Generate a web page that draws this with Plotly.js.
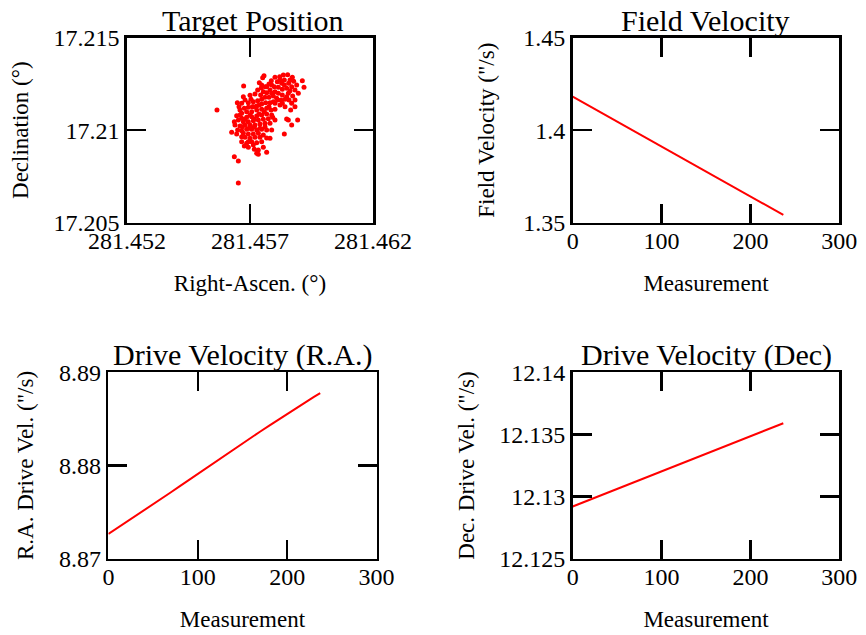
<!DOCTYPE html>
<html>
<head>
<meta charset="utf-8">
<script src="https://cdn.plot.ly/plotly-3.0.1.min.js"></script>
<style>
html, body { margin: 0; padding: 0; background: #fff; }
#chart { width: 866px; height: 635px; }
</style>
</head>
<body>
<div id="chart"></div>
<script>
// ---- Target Position (scatter) ----
const targetRA = [
281.457569,281.457515,281.457379,281.458016,281.458206,281.458395,281.458531,281.458721,281.458775,281.458572,
281.458287,281.458111,281.457867,281.457772,281.457623,281.457460,281.457311,281.456742,281.459127,281.459195,
281.458694,281.458829,281.458490,281.458314,281.458152,281.457989,281.457813,281.458016,281.457881,281.457677,
281.457542,281.457203,281.457000,281.457433,281.458152,281.458314,281.458558,281.458734,281.458829,281.458694,
281.458585,281.458423,281.458260,281.458084,281.457948,281.457772,281.457610,281.457474,281.457311,281.457135,
281.456932,281.456797,281.456661,281.456485,281.458829,281.458653,281.458423,281.458219,281.458016,281.457813,
281.457637,281.457474,281.457271,281.457095,281.456932,281.456769,281.456593,281.456458,281.456661,281.456864,
281.457068,281.457271,281.457474,281.457677,281.457853,281.458016,281.457881,281.457677,281.457474,281.457271,
281.457068,281.456864,281.456661,281.456526,281.456729,281.456932,281.457135,281.457339,281.457542,281.457745,
281.457921,281.456390,281.456593,281.456797,281.457000,281.457203,281.457406,281.457610,281.457813,281.458490,
281.458558,281.458937,281.458694,281.456498,281.456661,281.456864,281.457068,281.457271,281.457474,281.457677,
281.456255,281.456458,281.456729,281.456932,281.457135,281.457339,281.457542,281.458395,281.456797,281.457000,
281.457203,281.457406,281.457677,281.457813,281.456661,281.456864,281.457068,281.457271,281.457474,281.456769,
281.456932,281.457135,281.457339,281.457176,281.457271,281.457339,281.457677,281.457542,281.456363,281.456526,
281.456526,281.455658,281.456593,281.456797,281.457000,281.457176,281.457366,281.457582,281.457772,281.457366,
281.457040,281.456729,281.456553,281.456363,281.456959,281.457176,281.457406,281.456688,281.457948,281.458124,
281.458314,281.458490,281.458626,281.458395,281.458219,281.457881,281.457677,281.458897,281.458965,281.457474,
281.457135,281.457610,281.457881,281.458016,281.456932,281.456661,281.458355,281.458626
];
const targetDec = [
17.212948,17.212840,17.212570,17.212858,17.212894,17.212714,17.213002,17.212858,17.212642,17.212534,
17.212534,17.212624,17.212678,17.212498,17.212353,17.212281,17.212173,17.212389,17.212678,17.212317,
17.212353,17.212173,17.212263,17.212209,17.212317,17.212353,17.212173,17.212083,17.211993,17.212029,
17.212083,17.211957,17.211885,17.211903,17.211993,17.211903,17.211993,17.211849,17.211633,17.211452,
17.211633,17.211669,17.211633,17.211723,17.211849,17.211777,17.211777,17.211669,17.211597,17.211542,
17.211488,17.211633,17.211452,17.211488,17.211272,17.211092,17.211272,17.211362,17.211452,17.211488,
17.211488,17.211416,17.211308,17.211272,17.211236,17.211182,17.211092,17.210786,17.210912,17.211002,
17.211002,17.211092,17.211128,17.211182,17.211092,17.211128,17.210822,17.210876,17.210822,17.210768,
17.210732,17.210696,17.210641,17.210551,17.210461,17.210461,17.210515,17.210551,17.210587,17.210623,
17.210696,17.210281,17.210227,17.210281,17.210281,17.210281,17.210335,17.210371,17.210371,17.210605,
17.210551,17.210551,17.210281,17.210011,17.209975,17.210047,17.210047,17.210011,17.210047,17.210011,
17.209885,17.209795,17.209831,17.209795,17.209795,17.209831,17.209740,17.209795,17.209614,17.209560,
17.209614,17.209614,17.209578,17.209560,17.209380,17.209290,17.209380,17.209326,17.209380,17.209146,
17.209074,17.209200,17.208930,17.208966,17.208749,17.208695,17.208803,17.209074,17.208569,17.208335,
17.207146,17.211092,17.210822,17.210587,17.210822,17.210587,17.210876,17.211002,17.211272,17.211362,
17.211669,17.211813,17.211272,17.210461,17.210101,17.210191,17.210101,17.210191,17.211542,17.211633,
17.211452,17.211813,17.212137,17.212444,17.212714,17.212444,17.212353,17.212444,17.211993,17.212444,
17.211272,17.210191,17.210011,17.210551,17.209380,17.209650,17.212984,17.212714
];
const raTickVals = [281.452, 281.457, 281.462];
const raTickText = ["281.452", "281.457", "281.462"];
const decTickVals = [17.205, 17.21, 17.215];
const decTickText = ["17.205", "17.21", "17.215"];

// ---- Field Velocity ----
const fieldMeas = [0, 50, 100, 150, 200, 237];
const fieldVel = [1.4181, 1.40462, 1.39114, 1.37766, 1.36418, 1.3542];
const fieldTickVals = [1.35, 1.4, 1.45];
const fieldTickText = ["1.35", "1.4", "1.45"];

// ---- Drive Velocity (R.A.) ----
const raMeas = [0,10,20,25,30,40,50,60,70,80,90,100,110,120,130,140,150,160,170,180,190,200,210,220,230,237];
const raDriveVel = [8.87265,8.87328,8.87390,8.87425,8.87452,8.87517,8.87582,8.87648,8.87713,8.87779,8.87845,8.87911,
  8.87977,8.88042,8.88107,8.88172,8.88237,8.88301,8.88365,8.88428,8.88491,8.88553,8.88615,8.88676,8.88736,8.88777];
const raDriveTickVals = [8.87, 8.88, 8.89];
const raDriveTickText = ["8.87", "8.88", "8.89"];

// ---- Drive Velocity (Dec) ----
const decMeas = [0, 50, 100, 150, 200, 237];
const decDriveVel = [12.1292, 12.13062, 12.13205, 12.13347, 12.13488, 12.1359];
const decDriveTickVals = [12.125, 12.13, 12.135, 12.14];
const decDriveTickText = ["12.125", "12.13", "12.135", "12.14"];

const measTickVals = [0, 100, 200, 300];

const FONT = "Liberation Serif, Times New Roman, serif";
const W = 866, H = 635;
function xd(l, r) { return [l / W, r / W]; }
function yd(t, b) { return [1 - b / H, 1 - t / H]; }

function axisBase(extra) {
  return Object.assign({
    showline: true, linecolor: "#000", linewidth: 2.7, mirror: "ticks",
    ticks: "inside", ticklen: 19, tickwidth: 2.5, tickcolor: "#000",
    showgrid: false, zeroline: false, fixedrange: true,
    tickfont: { family: FONT, size: 24, color: "#000" },
    tickmode: "array"
  }, extra);
}
function atitle(t, standoff) {
  return { text: t, font: { family: FONT, size: 23, color: "#000" }, standoff: standoff };
}

const red = "#ff0000";
const data = [
  { type: "scatter", mode: "markers", x: targetRA, y: targetDec, xaxis: "x", yaxis: "y",
    marker: { color: red, size: 5 } },
  { type: "scatter", mode: "lines", x: fieldMeas, y: fieldVel, xaxis: "x2", yaxis: "y2",
    line: { color: red, width: 2 } },
  { type: "scatter", mode: "lines", x: raMeas, y: raDriveVel, xaxis: "x3", yaxis: "y3",
    line: { color: red, width: 2 } },
  { type: "scatter", mode: "lines", x: decMeas, y: decDriveVel, xaxis: "x4", yaxis: "y4",
    line: { color: red, width: 2 } }
];

const xs = { ticklabelstandoff: -5 };
const layout = {
  width: W, height: H,
  margin: { l: 0, r: 0, t: 0, b: 0 },
  paper_bgcolor: "#fff", plot_bgcolor: "#fff",
  showlegend: false,
  font: { family: FONT, color: "#000" },
  xaxis: axisBase(Object.assign({ domain: xd(127, 373), anchor: "y", range: [281.452, 281.462],
    tickvals: raTickVals, ticktext: raTickText, title: atitle("Right-Ascen. (°)", 22) }, xs)),
  yaxis: axisBase({ domain: yd(37.7, 222.7), anchor: "x", range: [17.205, 17.215],
    tickvals: decTickVals, ticktext: decTickText, title: atitle("Declination (°)", 19) }),
  xaxis2: axisBase(Object.assign({ domain: xd(572.7, 839.3), anchor: "y2", range: [0, 300],
    tickvals: measTickVals, title: atitle("Measurement", 22) }, xs)),
  yaxis2: axisBase({ domain: yd(37.7, 222.7), anchor: "x2", range: [1.35, 1.45],
    tickvals: fieldTickVals, ticktext: fieldTickText, title: atitle("Field Velocity (\"/s)", 22) }),
  xaxis3: axisBase(Object.assign({ domain: xd(108.4, 376.5), anchor: "y3", range: [0, 300],
    tickvals: measTickVals, title: atitle("Measurement", 22) }, xs)),
  yaxis3: axisBase({ domain: yd(372.3, 558.7), anchor: "x3", range: [8.87, 8.89],
    tickvals: raDriveTickVals, ticktext: raDriveTickText, title: atitle("R.A. Drive Vel. (\"/s)", 19) }),
  xaxis4: axisBase(Object.assign({ domain: xd(572.7, 839.3), anchor: "y4", range: [0, 300],
    tickvals: measTickVals, title: atitle("Measurement", 22) }, xs)),
  yaxis4: axisBase({ domain: yd(372.3, 558.7), anchor: "x4", range: [12.125, 12.14],
    tickvals: decDriveTickVals, ticktext: decDriveTickText, title: atitle("Dec. Drive Vel. (\"/s)", 19) }),
  annotations: [
    { text: "Target Position", x: 253 / W, y: 1 - 21 / H },
    { text: "Field Velocity", x: 705 / W, y: 1 - 21 / H },
    { text: "Drive Velocity (R.A.)", x: 242 / W, y: 1 - 355 / H },
    { text: "Drive Velocity (Dec)", x: 706 / W, y: 1 - 355 / H }
  ].map(a => Object.assign({ xref: "paper", yref: "paper", showarrow: false,
    xanchor: "center", yanchor: "middle", font: { family: FONT, size: 30, color: "#000" } }, a))
};

Plotly.newPlot("chart", data, layout, { displayModeBar: false, staticPlot: true });
</script>
</body>
</html>
